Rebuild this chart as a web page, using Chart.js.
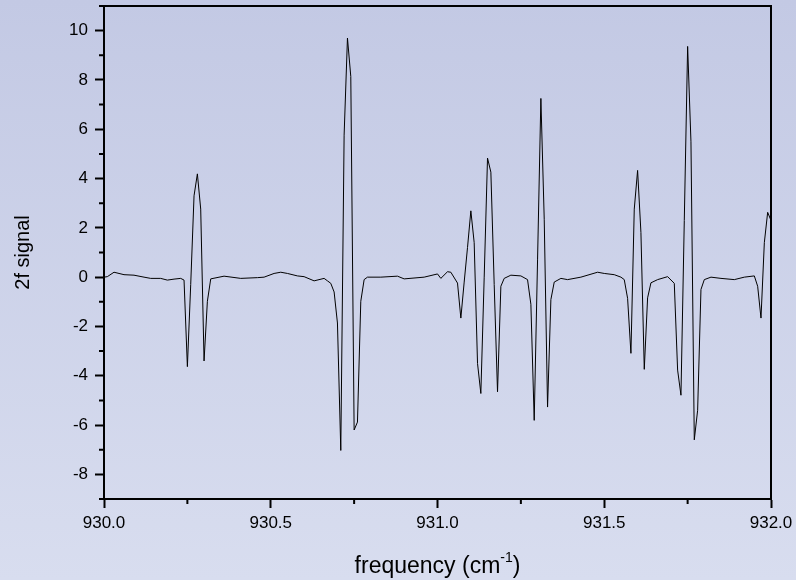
<!DOCTYPE html>
<html>
<head>
<meta charset="utf-8">
<script src="https://cdn.jsdelivr.net/npm/chart.js@4"></script>
<style>
  html, body { margin: 0; padding: 0; background: #cdd3ea; }
  #wrap { width: 796px; height: 580px; }
</style>
</head>
<body>
<div id="wrap"><canvas id="myChart" width="796" height="580"></canvas></div>
<script>
// frequency (cm-1) and 2f signal
const freq = [
  930.00, 930.01, 930.03, 930.06, 930.09, 930.12, 930.14, 930.17, 930.19, 930.21,
  930.23, 930.24, 930.25, 930.26, 930.27, 930.28, 930.29, 930.30, 930.31, 930.32,
  930.36, 930.41, 930.46, 930.48, 930.51, 930.53, 930.55, 930.58, 930.60, 930.63,
  930.66, 930.67, 930.68, 930.69, 930.70, 930.71, 930.72, 930.73, 930.74, 930.75,
  930.76, 930.77, 930.78, 930.79, 930.83, 930.88, 930.90, 930.96, 931.00, 931.01,
  931.03, 931.04, 931.06, 931.07, 931.08, 931.09, 931.10, 931.11, 931.12, 931.13,
  931.14, 931.15, 931.16, 931.17, 931.18, 931.19, 931.20, 931.22, 931.25, 931.27,
  931.28, 931.29, 931.30, 931.31, 931.32, 931.33, 931.34, 931.35, 931.37, 931.39,
  931.43, 931.48, 931.50, 931.53, 931.55, 931.56, 931.57, 931.58, 931.59, 931.60,
  931.61, 931.62, 931.63, 931.64, 931.66, 931.69, 931.71, 931.72, 931.73, 931.74,
  931.75, 931.76, 931.77, 931.78, 931.79, 931.80, 931.82, 931.85, 931.89, 931.92,
  931.95, 931.96, 931.97, 931.98, 931.99, 932.00
];
const signal = [
  0.0, 0.02, 0.2, 0.1, 0.08, 0.0, -0.05, -0.05, -0.12, -0.08,
  -0.05, -0.12, -3.63, -0.3, 3.3, 4.19, 2.76, -3.4, -0.98, -0.07,
  0.04, -0.05, -0.02, 0.0, 0.15, 0.2, 0.15, 0.05, 0.02, -0.15,
  -0.05, -0.15, -0.25, -0.6, -1.86, -7.03, 5.76, 9.7, 8.14, -6.2,
  -5.88, -0.98, -0.1, 0.0, 0.0, 0.04, -0.07, 0.0, 0.13, -0.05,
  0.22, 0.2, -0.24, -1.66, -0.2, 1.2, 2.69, 1.4, -3.5, -4.72,
  0.0, 4.83, 4.26, -0.3, -4.65, -0.37, -0.05, 0.08, 0.05, -0.1,
  -1.1, -5.81, 0.7, 7.25, 2.35, -5.27, -0.91, -0.2, -0.05, -0.1,
  0.0, 0.2, 0.15, 0.1, 0.0, -0.1, -0.86, -3.09, 2.76, 4.33,
  1.81, -3.74, -0.84, -0.23, -0.1, 0.02, -0.25, -3.77, -4.79, 2.3,
  9.36, 5.49, -6.6, -5.4, -0.5, -0.1, 0.0, -0.05, -0.1, 0.0,
  0.05, -0.37, -1.66, 1.4, 2.63, 2.3
];
const xMin = 930, xMax = 932, xStep = 0.25;
const yMin = -9, yMax = 11, yStep = 1;

const points = freq.map((f, i) => ({x: f, y: signal[i]}));

// gradient background + box + short minor ticks + x title with superscript
const decor = {
  id: 'decor',
  beforeDraw(chart) {
    const c = chart.ctx;
    const g = c.createLinearGradient(0, 0, 0, chart.height);
    g.addColorStop(0, '#c3c9e4');
    g.addColorStop(1, '#d8ddef');
    c.save();
    c.fillStyle = g;
    c.fillRect(0, 0, chart.width, chart.height);
    c.restore();
  },
  afterDraw(chart) {
    const c = chart.ctx;
    const a = chart.chartArea;
    const xs = chart.scales.x, ys = chart.scales.y;
    c.save();
    c.strokeStyle = '#000';
    c.lineWidth = 2;
    c.strokeRect(a.left, a.top, a.right - a.left, a.bottom - a.top);
    c.beginPath();
    xs.ticks.forEach(t => {
      if (t.value % 0.5 !== 0) {
        const px = xs.getPixelForValue(t.value);
        c.moveTo(px, a.bottom);
        c.lineTo(px, a.bottom + 5);
      }
    });
    ys.ticks.forEach(t => {
      if (t.value % 2 !== 0) {
        const py = ys.getPixelForValue(t.value);
        c.moveTo(a.left, py);
        c.lineTo(a.left - 5, py);
      }
    });
    c.stroke();

    // x axis title
    const main = '23px "Liberation Sans", Arial, sans-serif';
    const sup = '14px "Liberation Sans", Arial, sans-serif';
    const t1 = 'frequency (cm', t2 = '-1', t3 = ')';
    c.font = main; const w1 = c.measureText(t1).width, w3 = c.measureText(t3).width;
    c.font = sup; const w2 = c.measureText(t2).width;
    let x0 = (a.left + a.right) / 2 - (w1 + w2 + w3) / 2;
    const yb = 573;
    c.fillStyle = '#000';
    c.textBaseline = 'alphabetic';
    c.textAlign = 'left';
    c.font = main; c.fillText(t1, x0, yb);
    c.font = sup; c.fillText(t2, x0 + w1, yb - 11);
    c.font = main; c.fillText(t3, x0 + w1 + w2, yb);
    c.restore();
  }
};

const ctx = document.getElementById('myChart');
const chart = new Chart(ctx, {
  type: 'line',
  data: {
    datasets: [{
      label: '2f signal',
      data: points,
      borderColor: '#000',
      borderWidth: 1,
      pointRadius: 0,
      tension: 0,
      fill: false
    }]
  },
  options: {
    responsive: false,
    animation: false,
    layout: { padding: { top: 6, right: 25, left: 0, bottom: 0 } },
    plugins: { legend: { display: false }, tooltip: { enabled: false } },
    scales: {
      x: {
        type: 'linear',
        min: xMin, max: xMax,
        afterFit(scale) { scale.height = 81; scale.paddingLeft = 0; scale.paddingRight = 0; },
        border: { display: true, color: '#000', width: 2 },
        grid: {
          drawOnChartArea: false,
          tickLength: 9,
          tickWidth: 2,
          tickColor: c => (c.tick && c.tick.value % 0.5 === 0) ? '#000' : 'rgba(0,0,0,0)'
        },
        ticks: {
          stepSize: xStep,
          autoSkip: false,
          maxRotation: 0,
          padding: 5,
          color: '#000',
          font: { family: '"Liberation Sans", Arial, sans-serif', size: 17 },
          callback: v => (v % 0.5 === 0) ? v.toFixed(1) : ''
        }
      },
      y: {
        min: yMin, max: yMax,
        afterFit(scale) { scale.width = 104; scale.paddingTop = 0; scale.paddingBottom = 0; },
        border: { display: true, color: '#000', width: 2 },
        grid: {
          drawOnChartArea: false,
          tickLength: 9,
          tickWidth: 2,
          tickColor: c => (c.tick && c.tick.value % 2 === 0 && c.tick.value > yMin && c.tick.value < yMax) ? '#000' : 'rgba(0,0,0,0)'
        },
        ticks: {
          stepSize: yStep,
          autoSkip: false,
          padding: 7,
          color: '#000',
          font: { family: '"Liberation Sans", Arial, sans-serif', size: 17 },
          callback: v => (v % 2 === 0 && v > yMin && v < yMax) ? v : ''
        },
        title: {
          display: true,
          text: '2f signal',
          color: '#000',
          font: { family: '"Liberation Sans", Arial, sans-serif', size: 20 },
          padding: { top: 11, bottom: 0 }
        }
      }
    }
  },
  plugins: [decor]
});
</script>
</body>
</html>
